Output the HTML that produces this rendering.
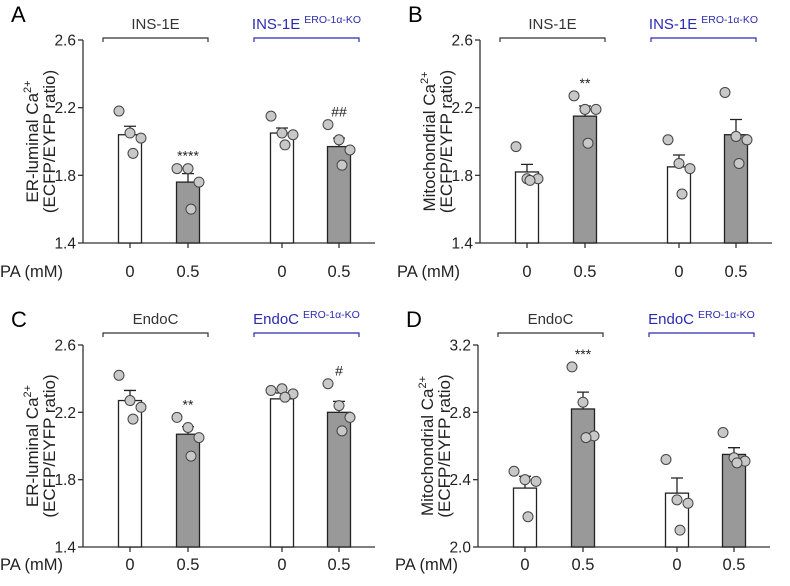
<!DOCTYPE html>
<html><head><meta charset="utf-8"><style>
body{margin:0;background:#fff}
svg{font-family:"Liberation Sans",Arial,sans-serif}
</style></head><body>
<svg id="c" width="790" height="581" xmlns="http://www.w3.org/2000/svg"></svg>
<script>
const categories=["0","0.5","0","0.5"];
const meansA=[2.04,1.76,2.05,1.97];
const errsA=[0.05,0.05,0.03,0.05];
const ptsA=[[2.18,2.05,2.02,1.93],[1.84,1.84,1.76,1.60],[2.15,2.05,2.04,1.98],[2.10,2.01,1.95,1.86]];
const meansB=[1.82,2.15,1.85,2.04];
const errsB=[0.045,0.06,0.07,0.09];
const ptsB=[[1.97,1.78,1.78,1.77],[2.27,2.19,2.19,1.99],[2.01,1.87,1.84,1.69],[2.29,2.03,2.01,1.87]];
const meansC=[2.27,2.07,2.28,2.20];
const errsC=[0.06,0.045,0.035,0.065];
const ptsC=[[2.42,2.27,2.23,2.16],[2.17,2.11,2.05,1.94],[2.33,2.34,2.31,2.29],[2.37,2.24,2.17,2.09]];
const meansD=[2.35,2.82,2.32,2.55];
const errsD=[0.07,0.10,0.09,0.04];
const ptsD=[[2.45,2.40,2.39,2.18],[3.07,2.86,2.66,2.65],[2.52,2.28,2.26,2.10],[2.68,2.53,2.51,2.50]];
const ticksAB=[1.4,1.8,2.2,2.6];
const ticksD=[2.0,2.4,2.8,3.2];
const sigA=["","****","","##"], sigB=["","**","",""], sigC=["","**","","#"], sigD=["","***","",""];

const svg=document.getElementById('c');
const NS="http://www.w3.org/2000/svg";
function mk(tag,attrs,parent,text){const e=document.createElementNS(NS,tag);for(const k in attrs)e.setAttribute(k,attrs[k]);if(text!==undefined)e.textContent=text;(parent||svg).appendChild(e);return e;}

const panels=[
 {id:'a',letter:'A',x0:83,top:40,bot:243,pa:271,brk:38,means:meansA,errs:errsA,pts:ptsA,ticks:ticksAB,sig:sigA,yl1:'ER-luminal Ca',g:['INS-1E','INS-1E']},
 {id:'b',letter:'B',x0:480,top:40,bot:243,pa:271,brk:38,means:meansB,errs:errsB,pts:ptsB,ticks:ticksAB,sig:sigB,yl1:'Mitochondrial Ca',g:['INS-1E','INS-1E']},
 {id:'c',letter:'C',x0:83,top:345,bot:547,pa:564,brk:333,means:meansC,errs:errsC,pts:ptsC,ticks:ticksAB,sig:sigC,yl1:'ER-luminal Ca',g:['EndoC','EndoC']},
 {id:'d',letter:'D',x0:478,top:345,bot:547,pa:564,brk:333,means:meansD,errs:errsD,pts:ptsD,ticks:ticksD,sig:sigD,yl1:'Mitochondrial Ca',g:['EndoC','EndoC']}
];
const barOff=[47,105,199,256], bw=23, jit=[-11,0,11,3];

panels.forEach(p=>{
 const g=mk('g',{});
 
 
 const lo=p.ticks[0], hi=p.ticks[p.ticks.length-1];
 const y=v=>p.bot-(v-lo)/(hi-lo)*(p.bot-p.top);
 const letter=mk('text',{x:p.x0-72,y:p.top-18,'font-size':22},g,p.letter);
 
 
 const ax=mk('line',{x1:p.x0,y1:p.top,x2:p.x0,y2:p.bot,stroke:'#333','stroke-width':1.3},g);
 
 
 const xa=mk('line',{x1:p.x0,y1:p.bot,x2:p.x0+292,y2:p.bot,stroke:'#333','stroke-width':1.3},g);
 
 
 p.ticks.forEach(t=>{
  mk('line',{x1:p.x0-5,y1:y(t),x2:p.x0,y2:y(t),stroke:'#333','stroke-width':1.3},g);
  const tl=mk('text',{x:p.x0-7,y:y(t)+5.5,'font-size':15.5,'text-anchor':'end',fill:'#222'},g,t.toFixed(1));
  
  
 });
 const cy=(p.top+p.bot)/2;
 const yt=mk('text',{transform:`translate(${p.x0-45},${cy}) rotate(-90)`,'font-size':17,'text-anchor':'middle',fill:'#222'},g);
 
 
 mk('tspan',{},yt,p.yl1);
 mk('tspan',{dy:-7,'font-size':11},yt,'2+');
 const yt2=mk('text',{transform:`translate(${p.x0-28},${cy}) rotate(-90)`,'font-size':17,'text-anchor':'middle',fill:'#222'},g,'(ECFP/EYFP ratio)');
 
 
 const pa=mk('text',{x:p.x0-83,y:p.pa+6,'font-size':16.5,fill:'#222'},g,'PA (mM)');
 
 
 [[20,125,'#333',0],[171,276,'#2b2bb0',1]].forEach(([a,b,col,ko])=>{
  const br=mk('path',{d:`M${p.x0+a},${p.brk+4}V${p.brk}H${p.x0+b}V${p.brk+4}`,fill:'none',stroke:col,'stroke-width':1.2},g);
  
  
  const lt=mk('text',{x:p.x0+(a+b)/2,y:p.brk-9,'font-size':15,'text-anchor':'middle',fill:col},g);
  
  
  mk('tspan',{},lt,p.g[ko]);
  if(ko){mk('tspan',{dx:4,dy:-6,'font-size':10.5},lt,'ERO-1α-KO');}
 });
 p.means.forEach((m,i)=>{
  const cx=p.x0+barOff[i];
  const bar=mk('rect',{x:cx-bw/2,y:y(m),width:bw,height:p.bot-y(m),fill:i%2?'#999':'#fff',stroke:'#222','stroke-width':1.3},g);
  
  
  const et=y(m+p.errs[i]);
  const eb=mk('path',{d:`M${cx},${y(m)}V${et}M${cx-6},${et}H${cx+6}`,stroke:'#222','stroke-width':1.3,fill:'none'},g);
  
  
  p.pts[i].forEach((v,j)=>{
   const c=mk('circle',{cx:cx+jit[j],cy:y(v),r:5,fill:'#c8c8c8',stroke:'#444','stroke-width':1},g);
   
   
  });
  mk('line',{x1:cx,y1:p.bot,x2:cx,y2:p.bot+5,stroke:'#333','stroke-width':1.3},g);
  const xl=mk('text',{x:cx,y:p.pa+6,'font-size':16.5,'text-anchor':'middle',fill:'#222'},g,categories[i]);
  
  
  if(p.sig[i]){
   const top=Math.max(m+p.errs[i],...p.pts[i]);
   const s=mk('text',{x:cx,y:y(top)-8,'font-size':14,'text-anchor':'middle',fill:'#222'},g,p.sig[i]);
   
   
  }
 });
});
</script>
</body></html>
